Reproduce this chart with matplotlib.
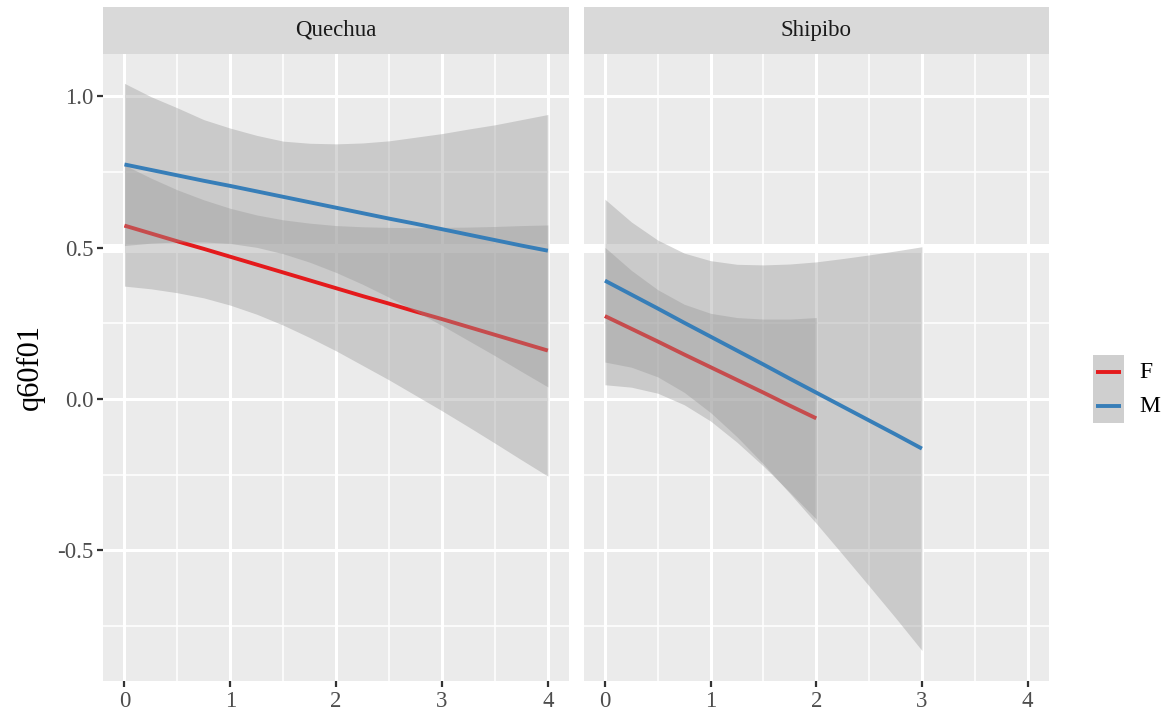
import numpy as np
import matplotlib
matplotlib.use("Agg")
import matplotlib.pyplot as plt
from matplotlib.ticker import FixedLocator

plt.rcParams["font.family"] = ["Liberation Serif", "DejaVu Serif"]
plt.rcParams["axes.unicode_minus"] = False

# values
groups = ["Quechua", "Shipibo"]
sexes = ["F", "M"]
colors = {"F": "#E41A1C", "M": "#377EB8"}

# Quechua, x = 0 .. 4 step 0.25
q_x = [0, 0.25, 0.5, 0.75, 1, 1.25, 1.5, 1.75, 2, 2.25, 2.5, 2.75, 3,
       3.25, 3.5, 3.75, 4]
q_f_fit = [0.573, 0.547, 0.521, 0.496, 0.470, 0.444, 0.418, 0.392, 0.366,
           0.340, 0.315, 0.289, 0.264, 0.238, 0.212, 0.186, 0.160]
q_f_lo = [0.373, 0.364, 0.351, 0.334, 0.310, 0.280, 0.244, 0.203, 0.159,
          0.111, 0.063, 0.012, -0.039, -0.092, -0.146, -0.201, -0.255]
q_f_hi = [0.773, 0.730, 0.691, 0.658, 0.630, 0.608, 0.592, 0.581, 0.573,
          0.569, 0.567, 0.566, 0.567, 0.568, 0.570, 0.573, 0.575]
q_m_fit = [0.775, 0.757, 0.739, 0.721, 0.704, 0.686, 0.668, 0.650, 0.632,
           0.614, 0.596, 0.579, 0.561, 0.543, 0.525, 0.507, 0.490]
q_m_lo = [0.507, 0.515, 0.519, 0.519, 0.514, 0.501, 0.480, 0.452, 0.418,
          0.379, 0.336, 0.290, 0.243, 0.193, 0.143, 0.091, 0.040]
q_m_hi = [1.043, 0.999, 0.962, 0.923, 0.895, 0.871, 0.852, 0.845, 0.843,
          0.846, 0.853, 0.865, 0.877, 0.892, 0.906, 0.923, 0.940]

# Shipibo, F: x = 0 .. 2, M: x = 0 .. 3, step 0.25
s_f_x = [0, 0.25, 0.5, 0.75, 1, 1.25, 1.5, 1.75, 2]
s_f_fit = [0.274, 0.232, 0.190, 0.147, 0.105, 0.063, 0.021, -0.022, -0.064]
s_f_lo = [0.047, 0.039, 0.019, -0.019, -0.073, -0.143, -0.222, -0.308, -0.397]
s_f_hi = [0.501, 0.425, 0.361, 0.313, 0.283, 0.269, 0.264, 0.264, 0.269]
s_m_x = [0, 0.25, 0.5, 0.75, 1, 1.25, 1.5, 1.75, 2, 2.25, 2.5, 2.75, 3]
s_m_fit = [0.391, 0.345, 0.299, 0.252, 0.206, 0.160, 0.114, 0.067, 0.021,
           -0.025, -0.071, -0.117, -0.164]
s_m_lo = [0.122, 0.105, 0.073, 0.022, -0.045, -0.125, -0.215, -0.312, -0.411,
          -0.514, -0.618, -0.723, -0.831]
s_m_hi = [0.660, 0.585, 0.525, 0.482, 0.457, 0.445, 0.443, 0.446, 0.453,
          0.464, 0.476, 0.489, 0.503]

data = {
    "Quechua": {"F": (q_x, q_f_fit, q_f_lo, q_f_hi),
                "M": (q_x, q_m_fit, q_m_lo, q_m_hi)},
    "Shipibo": {"F": (s_f_x, s_f_fit, s_f_lo, s_f_hi),
                "M": (s_m_x, s_m_fit, s_m_lo, s_m_hi)},
}

x_ticks = [0, 1, 2, 3, 4]
y_ticks = [-0.5, 0.0, 0.5, 1.0]
y_labels = ["-0.5", "0.0", "0.5", "1.0"]

W, H = 1171, 715
fig = plt.figure(figsize=(W / 100, H / 100), dpi=100)


def frac(x0, y0, x1, y1):
    return [x0 / W, 1 - y1 / H, (x1 - x0) / W, (y1 - y0) / H]


panels = [(103.3, 569), (583.8, 1048.7)]
for i, (g, (px0, px1)) in enumerate(zip(groups, panels)):
    ax = fig.add_axes(frac(px0, 54, px1, 680.7))
    ax.set_facecolor("#EBEBEB")
    for s in ax.spines.values():
        s.set_visible(False)
    ax.set_xlim(-0.2, 4.2)
    ax.set_ylim(-0.931, 1.140)
    ax.xaxis.set_major_locator(FixedLocator(x_ticks))
    ax.xaxis.set_minor_locator(FixedLocator([0.5, 1.5, 2.5, 3.5]))
    ax.yaxis.set_major_locator(FixedLocator(y_ticks))
    ax.yaxis.set_minor_locator(FixedLocator([-0.75, -0.25, 0.25, 0.75]))
    ax.set_axisbelow(True)
    ax.grid(which="major", color="white", lw=2.2)
    ax.grid(which="minor", color="white", lw=1.1)
    ax.axhline(0.5, color="white", lw=6.5, zorder=0.6)
    ax.tick_params(which="minor", length=0)
    ax.tick_params(which="major", length=4.3, width=1.6, color="#333333",
                   labelsize=16.5, labelcolor="#4D4D4D", pad=3)
    ax.set_xticklabels([str(t) for t in x_ticks])
    if i == 0:
        ax.set_yticklabels(y_labels)
    else:
        ax.tick_params(axis="y", left=False, labelleft=False)

    z = 1
    for sx in sexes:
        xs, fit, lo, hi = data[g][sx]
        ax.fill_between(xs, lo, hi, color="#999999", alpha=0.4, lw=0, zorder=z)
        ax.plot(xs, fit, color=colors[sx], lw=2.8, zorder=z + 1,
                solid_capstyle="butt")
        z += 2

    strip = fig.add_axes(frac(px0, 6.7, px1, 54))
    strip.set_facecolor("#D9D9D9")
    strip.set_xticks([])
    strip.set_yticks([])
    for s in strip.spines.values():
        s.set_visible(False)
    strip.text(0.5, 0.5, g, ha="center", va="center", fontsize=16.5,
               color="#1A1A1A", transform=strip.transAxes)

fig.text(30 / W, 1 - 367.5 / H, "q60f01", rotation=90, ha="center",
         va="center", fontsize=22, color="black")

# legend
key = fig.add_axes(frac(1092.7, 355, 1124.3, 423.3))
key.set_facecolor("#CFCFCF")
key.set_xlim(0, 1)
key.set_ylim(0, 2)
key.set_xticks([])
key.set_yticks([])
for s in key.spines.values():
    s.set_visible(False)
for j, sx in enumerate(sexes):
    yy = 1.5 - j
    key.plot([0.12, 0.88], [yy, yy], color=colors[sx], lw=2.8,
             solid_capstyle="butt")
    fig.text(1139 / W, 1 - (372.3 + 34.7 * j) / H, sx, ha="left",
             va="center", fontsize=17, color="black")

fig.savefig("out.png", dpi=100)
